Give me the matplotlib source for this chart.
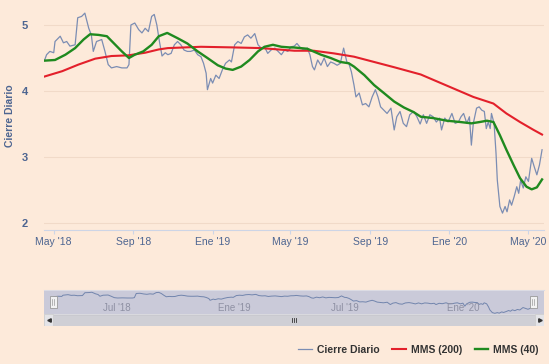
import matplotlib
matplotlib.use("Agg")
import matplotlib.pyplot as plt
import matplotlib.dates as mdates
from matplotlib.patches import Rectangle
from matplotlib.lines import Line2D
from matplotlib.ticker import FuncFormatter
import pandas as pd

plt.rcParams['font.family'] = ['Liberation Sans', 'DejaVu Sans']

# ---------------- data ----------------
daily_dates = ["2018-04-17","2018-04-20","2018-04-25","2018-05-01","2018-05-03","2018-05-11","2018-05-16","2018-05-21","2018-05-26","2018-06-03",
"2018-06-07","2018-06-13","2018-06-18","2018-06-24","2018-06-28","2018-07-01","2018-07-06","2018-07-14","2018-07-19","2018-07-24",
"2018-07-29","2018-08-06","2018-08-14","2018-08-22","2018-08-25","2018-08-28","2018-09-03","2018-09-09","2018-09-14","2018-09-19",
"2018-09-24","2018-09-29","2018-10-03","2018-10-07","2018-10-11","2018-10-15","2018-10-20","2018-10-24","2018-10-29","2018-11-03",
"2018-11-08","2018-11-13","2018-11-18","2018-11-23","2018-11-28","2018-12-04","2018-12-09","2018-12-14","2018-12-18","2018-12-22",
"2018-12-24","2018-12-29","2019-01-01","2019-01-06","2019-01-11","2019-01-16","2019-01-21","2019-01-27","2019-01-30","2019-02-04",
"2019-02-09","2019-02-14","2019-02-19","2019-02-24","2019-03-01","2019-03-07","2019-03-12","2019-03-17","2019-03-22","2019-03-27",
"2019-04-01","2019-04-07","2019-04-12","2019-04-17","2019-04-22","2019-04-27","2019-05-02","2019-05-07","2019-05-11","2019-05-17",
"2019-05-22","2019-05-27","2019-05-31","2019-06-04","2019-06-07","2019-06-12","2019-06-17","2019-06-22","2019-06-27","2019-07-02",
"2019-07-07","2019-07-12","2019-07-17","2019-07-22","2019-07-27","2019-07-30","2019-08-03","2019-08-07","2019-08-10","2019-08-15",
"2019-08-20","2019-08-25","2019-08-30","2019-09-04","2019-09-09","2019-09-13","2019-09-17","2019-09-22","2019-09-27","2019-10-03",
"2019-10-08","2019-10-12","2019-10-17","2019-10-22","2019-10-27","2019-11-01","2019-11-07","2019-11-12","2019-11-17","2019-11-22",
"2019-11-27","2019-12-02","2019-12-07","2019-12-12","2019-12-17","2019-12-20","2019-12-25","2019-12-30","2020-01-05","2020-01-10",
"2020-01-15","2020-01-19","2020-01-23","2020-01-28","2020-02-01","2020-02-04","2020-02-07","2020-02-12","2020-02-16","2020-02-20",
"2020-02-24","2020-02-27","2020-03-01","2020-03-04","2020-03-06","2020-03-10","2020-03-13","2020-03-15","2020-03-19","2020-03-23",
"2020-03-27","2020-03-30","2020-04-03","2020-04-06","2020-04-10","2020-04-14","2020-04-17","2020-04-20","2020-04-24","2020-04-28",
"2020-05-02","2020-05-07","2020-05-11","2020-05-15","2020-05-19","2020-05-23"]
daily_close = [4.47,4.55,4.60,4.58,4.75,4.83,4.73,4.75,4.68,4.70,
5.11,5.13,5.18,4.95,4.85,4.60,4.75,4.78,4.60,4.40,
4.35,4.37,4.35,4.35,4.40,5.00,5.03,4.93,4.88,4.95,
4.90,5.13,5.16,5.00,4.75,4.53,4.58,4.55,4.57,4.70,
4.75,4.70,4.62,4.60,4.60,4.62,4.55,4.52,4.42,4.27,
4.02,4.19,4.12,4.24,4.19,4.32,4.42,4.47,4.44,4.70,
4.75,4.72,4.82,4.85,4.80,4.87,4.70,4.65,4.67,4.57,
4.62,4.65,4.60,4.55,4.62,4.60,4.67,4.68,4.72,4.65,
4.62,4.65,4.55,4.37,4.32,4.47,4.39,4.50,4.37,4.44,
4.42,4.39,4.42,4.65,4.44,4.42,4.29,4.09,3.91,3.97,
3.79,3.81,3.76,3.91,4.02,3.91,3.76,3.71,3.66,3.74,
3.41,3.61,3.69,3.51,3.46,3.64,3.69,3.61,3.50,3.64,
3.51,3.64,3.61,3.53,3.59,3.41,3.59,3.53,3.66,3.51,
3.53,3.61,3.66,3.51,3.61,3.18,3.51,3.74,3.76,3.71,
3.69,3.43,3.53,3.43,3.66,3.51,3.06,2.65,2.25,2.15,
2.25,2.17,2.35,2.27,2.40,2.55,2.45,2.65,2.53,2.70,
2.63,2.98,2.85,2.73,2.88,3.11]

mms40_dates = ["2018-04-17","2018-05-03","2018-05-19","2018-06-03","2018-06-16","2018-06-26","2018-07-09","2018-07-22","2018-08-01","2018-08-14",
"2018-08-25","2018-09-03","2018-09-16","2018-09-29","2018-10-10","2018-10-23","2018-11-08","2018-11-23","2018-12-09","2018-12-24",
"2019-01-09","2019-01-21","2019-02-01","2019-02-14","2019-02-27","2019-03-12","2019-03-22","2019-04-04","2019-04-17","2019-04-30",
"2019-05-06","2019-05-27","2019-06-17","2019-07-02","2019-07-17","2019-07-30","2019-08-07","2019-08-23","2019-09-07","2019-09-22",
"2019-10-08","2019-10-23","2019-11-07","2019-11-18","2019-12-07","2019-12-28","2020-01-18","2020-02-04","2020-02-17","2020-02-28",
"2020-03-09","2020-03-19","2020-03-29","2020-04-09","2020-04-19","2020-04-29","2020-05-07","2020-05-15","2020-05-23"]
mms40_vals = [4.46,4.47,4.55,4.65,4.78,4.86,4.85,4.83,4.73,4.60,
4.50,4.55,4.60,4.70,4.83,4.88,4.80,4.72,4.60,4.50,
4.39,4.34,4.32,4.37,4.47,4.60,4.67,4.70,4.67,4.66,
4.66,4.64,4.55,4.50,4.44,4.42,4.37,4.24,4.09,3.97,
3.84,3.75,3.68,3.61,3.59,3.55,3.53,3.51,3.53,3.55,
3.53,3.33,3.11,2.88,2.68,2.55,2.51,2.54,2.66]

mms200_dates = ["2018-04-17","2018-05-14","2018-06-08","2018-07-04","2018-07-29","2018-08-24","2018-09-19","2018-10-10","2018-10-24","2018-12-14",
"2019-02-04","2019-03-17","2019-05-07","2019-06-06","2019-07-07","2019-08-07","2019-09-07","2019-10-08","2019-11-18","2019-12-07",
"2020-01-07","2020-02-07","2020-03-09","2020-03-29","2020-04-19","2020-05-10","2020-05-23"]
mms200_vals = [4.22,4.30,4.40,4.49,4.53,4.54,4.58,4.63,4.65,4.67,
4.66,4.65,4.61,4.61,4.57,4.52,4.44,4.36,4.25,4.17,
4.04,3.91,3.81,3.66,3.53,3.41,3.34]

y_ticks = [2, 3, 4, 5]
x_tick_dates = ["2018-05-01","2018-09-01","2019-01-01","2019-05-01","2019-09-01","2020-01-01","2020-05-01"]
nav_tick_dates = ["2018-07-01","2019-01-01","2019-07-01","2020-01-01"]
month_abbr = {1: "Ene", 2: "Feb", 3: "Mar", 4: "Abr", 5: "May", 6: "Jun",
              7: "Jul", 8: "Ago", 9: "Sep", 10: "Oct", 11: "Nov", 12: "Dic"}

# ---------------- style ----------------
BG = '#FDEADA'
C_DAILY = '#7b8db3'
C_200 = '#e3202b'
C_40 = '#1f8a1f'
C_LABEL = '#4d6591'

n = min(len(daily_dates), len(daily_close))
d_dates = pd.to_datetime(daily_dates[:n])
d_vals = daily_close[:n]
g_dates = pd.to_datetime(mms40_dates)
r_dates = pd.to_datetime(mms200_dates)

W, H = 549, 364
def fx(px): return px / W
def fy(py): return 1 - py / H

fig = plt.figure(figsize=(W / 100, H / 100), dpi=100, facecolor=BG)

# main axes
ax = fig.add_axes([fx(44), fy(230), fx(544) - fx(44), fy(5) - fy(230)])
ax.set_facecolor(BG)
ax.plot(d_dates, d_vals, color=C_DAILY, lw=0.9, label='Cierre Diario', zorder=2)
ax.plot(r_dates, mms200_vals, color=C_200, lw=1.5, label='MMS (200)', zorder=3)
ax.plot(g_dates, mms40_vals, color=C_40, lw=1.7, label='MMS (40)', zorder=4)
ax.set_ylim(1.894, 5.303)
ax.set_xlim(pd.Timestamp('2018-04-16'), pd.Timestamp('2020-05-26'))
ax.set_yticks(y_ticks)
ax.yaxis.set_major_formatter(FuncFormatter(lambda v, p: f"{int(v)}"))
ax.grid(axis='y', color='#f1dac8', lw=0.8, zorder=0)
for s in ['top', 'right', 'left']:
    ax.spines[s].set_visible(False)
ax.spines['bottom'].set_color('#cdd5e6')
ax.spines['bottom'].set_linewidth(0.8)
ax.tick_params(axis='y', length=0, pad=11.5, labelcolor=C_LABEL, labelsize=8)
for t in ax.get_yticklabels():
    t.set_fontweight('bold')
ax.set_xticks(pd.to_datetime(x_tick_dates))
ax.xaxis.set_major_formatter(FuncFormatter(
    lambda v, p: f"{month_abbr[mdates.num2date(v).month]} '{mdates.num2date(v).strftime('%y')}"))
ax.tick_params(axis='x', length=3, color='#cdd5e6', pad=2, labelcolor=C_LABEL, labelsize=7.5)

fig.text(fx(10), fy(116), 'Cierre Diario', rotation=90, ha='center', va='center',
         color=C_LABEL, fontsize=7.5, fontweight='bold')

# navigator
nav = fig.add_axes([fx(44), fy(314), fx(544) - fx(44), fy(290) - fy(314)])
nav.set_facecolor('#cacad9')
t0, t1 = d_dates[0], d_dates[-1]
per_px = (t1 - t0) / 480
nav.set_xlim(t0 - per_px * 9, t1 + per_px * 11)
nav.set_ylim(2.05, 5.5)
nav.plot(d_dates, d_vals, color='#7285ad', lw=0.7)
nav.set_xticks([])
nav.set_yticks([])
for s in ['bottom', 'right', 'left']:
    nav.spines[s].set_visible(False)
nav.spines['top'].set_color('#dcdce4')
nav.spines['top'].set_linewidth(0.8)
for ds in nav_tick_dates:
    dt = pd.Timestamp(ds)
    nav.annotate(f"{month_abbr[dt.month]} '{dt.strftime('%y')}", xy=(dt, 0.25),
                 xycoords=('data', 'axes fraction'), xytext=(3, 0),
                 textcoords='offset pixels', ha='left', va='center',
                 color='#8e90a3', fontsize=7)

# navigator handles
for hx in (53, 533):
    fig.add_artist(Rectangle((fx(hx - 3.5), fy(308)), fx(7), fy(296) - fy(308),
                             facecolor='#f2f2f2', edgecolor='#9a9a9a', lw=0.6,
                             transform=fig.transFigure))
    for gx in (hx - 1, hx + 1):
        fig.add_artist(Line2D([fx(gx), fx(gx)], [fy(299), fy(305)], color='#9a9a9a',
                              lw=0.5, transform=fig.transFigure))

# scrollbar
sb = fig.add_axes([fx(44), fy(326), fx(544) - fx(44), fy(314) - fy(326)])
sb.set_xlim(0, 500)
sb.set_ylim(0, 12)
sb.axis('off')
sb.add_patch(Rectangle((0, 0), 500, 12, facecolor='#d9d9de', edgecolor='none'))
sb.add_patch(Rectangle((9, 0.5), 482, 11, facecolor='#cfcfd5', edgecolor='#c6c6cc', lw=0.5))
sb.add_patch(Rectangle((0, 0), 9, 12, facecolor='#e4e4e8', edgecolor='#cccccc', lw=0.5))
sb.add_patch(Rectangle((491, 0), 9, 12, facecolor='#e4e4e8', edgecolor='#cccccc', lw=0.5))
sb.plot([4.5], [6], marker='<', color='#333333', markersize=2.5)
sb.plot([495.5], [6], marker='>', color='#333333', markersize=2.5)
for gx in (248, 250, 252):
    sb.plot([gx, gx], [4, 8], color='#333333', lw=0.6)

# legend
fig.legend(handles=ax.get_lines(), labels=['Cierre Diario', 'MMS (200)', 'MMS (40)'],
           loc='center right', bbox_to_anchor=(fx(543), fy(350)), ncol=3, frameon=False,
           prop={'weight': 'bold', 'size': 7.5}, labelcolor='#333333',
           handlelength=1.3, handletextpad=0.5, columnspacing=1.2, borderaxespad=0)

fig.savefig('out.png', dpi=100, facecolor=BG)
